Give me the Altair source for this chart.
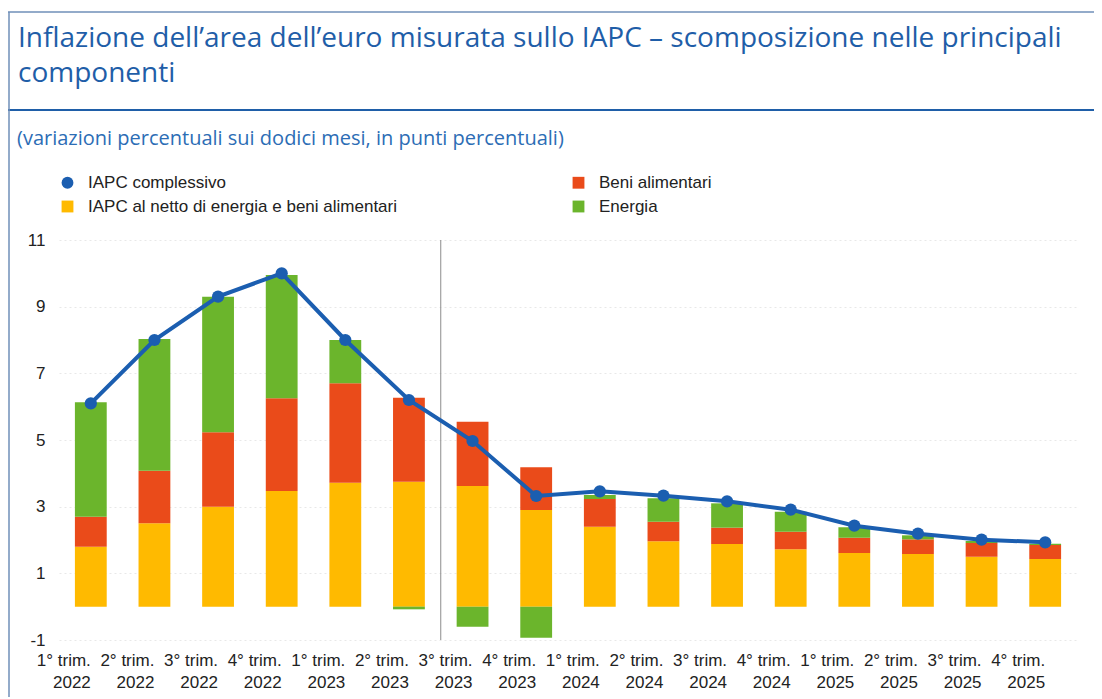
import altair as alt
import pandas as pd

# ---- data ----
quarters = ["1° trim.", "2° trim.", "3° trim.", "4° trim."] * 4
years = ["2022"] * 4 + ["2023"] * 4 + ["2024"] * 4 + ["2025"] * 4

core = [1.80, 2.50, 3.00, 3.47, 3.72, 3.75, 3.62, 2.90, 2.40, 1.96, 1.88, 1.72, 1.61, 1.58, 1.50, 1.43]
food = [0.90, 1.58, 2.23, 2.78, 2.98, 2.52, 1.93, 1.28, 0.83, 0.59, 0.49, 0.53, 0.46, 0.44, 0.41, 0.42]
energy = [3.43, 3.95, 4.07, 3.70, 1.30, -0.08, -0.60, -0.93, 0.12, 0.70, 0.73, 0.60, 0.31, 0.12, 0.06, 0.04]
hicp = [6.10, 8.00, 9.30, 10.00, 8.00, 6.20, 4.97, 3.32, 3.46, 3.33, 3.16, 2.91, 2.43, 2.19, 2.01, 1.93]

S_HICP = "IAPC complessivo"
S_FOOD = "Beni alimentari"
S_CORE = "IAPC al netto di energia e beni alimentari"
S_EN = "Energia"
legend_order = [S_HICP, S_CORE, S_FOOD, S_EN]
colors = ["#1B5EB0", "#FFBA00", "#EA4B1A", "#6BB52C"]
shapes = ["circle", "square", "square", "square"]
stack_rank = {S_CORE: 0, S_FOOD: 1, S_EN: 2}

title_lines = ["Inflazione dell\u2019area dell\u2019euro misurata sullo IAPC \u2013 scomposizione nelle principali",
               "componenti"]
subtitle = "(variazioni percentuali sui dodici mesi, in punti percentuali)"
y_ticks = [-1, 1, 3, 5, 7, 9, 11]

labels = [f"{q}|{y}" for q, y in zip(quarters, years)]
split_label = labels[6]  # projections start from 3° trim. 2023

rows = []
for i, lab in enumerate(labels):
    for s, vals in ((S_CORE, core), (S_FOOD, food), (S_EN, energy)):
        rows.append({"periodo": lab, "serie": s, "valore": vals[i], "ordine": stack_rank[s]})
bars_df = pd.DataFrame(rows)
line_df = pd.DataFrame({"periodo": labels, "serie": S_HICP, "valore": hicp})
split_df = pd.DataFrame({"periodo": [split_label]})
deco_df = pd.DataFrame({"k": [0]})

FONT = "Liberation Sans"
FS = 17
BLUE = "#1F5EA8"

x_enc = alt.X(
    "periodo:N", sort=labels, title=None,
    scale=alt.Scale(paddingInner=0, paddingOuter=0),
    axis=alt.Axis(labelExpr="split(datum.value, '|')", labelAngle=0, domain=False, ticks=False,
                  labelFont=FONT, labelFontSize=FS, labelColor="#222222", labelPadding=20,
                  labelLineHeight=22),
)
y_enc = alt.Y(
    "valore:Q", title=None, stack="zero",
    scale=alt.Scale(domain=[-1, 11], nice=False),
    axis=alt.Axis(values=y_ticks, labelExpr="'' + datum.value", domain=False, ticks=False,
                  labelFont=FONT, labelFontSize=FS, labelColor="#222222", labelPadding=14,
                  grid=True, gridColor="#e8e8e8", gridDash=[2, 3]),
)
leg = alt.Legend(title=None, orient="none", legendX=0, legendY=-66, columns=2, columnPadding=172,
                 rowPadding=6, symbolSize=140, symbolStrokeWidth=0, labelFont=FONT,
                 labelFontSize=FS, labelColor="#222222", labelLimit=600, labelOffset=12)
color_enc = alt.Color("serie:N", scale=alt.Scale(domain=legend_order, range=colors), legend=leg)
shape_enc = alt.Shape("serie:N", scale=alt.Scale(domain=legend_order, range=shapes), legend=leg)

bars = alt.Chart(bars_df).mark_bar(width=alt.RelativeBandSize(0.5)).encode(
    x=x_enc, y=y_enc, color=color_enc, order=alt.Order("ordine:Q")
)
line = alt.Chart(line_df).mark_line(color="#1B5EB0", strokeWidth=4).encode(
    x=x_enc, y=alt.Y("valore:Q", stack=None)
)
points = alt.Chart(line_df).mark_point(filled=True, size=150, opacity=1).encode(
    x=x_enc, y=alt.Y("valore:Q", stack=None), color=color_enc, shape=shape_enc
)
split_rule = alt.Chart(split_df).mark_rule(color="#8c8c8c", strokeWidth=1).encode(
    x=alt.X("periodo:N", sort=labels, bandPosition=0)
)

# ---- header decorations: title, blue rule, subtitle, frame ----
title_txt = alt.Chart(deco_df).mark_text(
    align="left", baseline="alphabetic", font="Open Sans", fontSize=28, lineHeight=35, color=BLUE
).encode(x=alt.value(-41), y=alt.value(-193), text=alt.value(title_lines))
subtitle_txt = alt.Chart(deco_df).mark_text(
    align="left", baseline="alphabetic", font="Open Sans", fontSize=20, color="#2C6DB5"
).encode(x=alt.value(-42), y=alt.value(-95), text=alt.value(subtitle))
underline = alt.Chart(deco_df).mark_rule(color=BLUE, strokeWidth=2).encode(
    x=alt.value(-51), x2=alt.value(1043), y=alt.value(-130)
)
frame_top = alt.Chart(deco_df).mark_rule(color="#6f8fb8", strokeWidth=1.5).encode(
    x=alt.value(-51), x2=alt.value(1043), y=alt.value(-228)
)
frame_left = alt.Chart(deco_df).mark_rule(color="#6f8fb8", strokeWidth=1.5).encode(
    x=alt.value(-50), y=alt.value(-228), y2=alt.value(457)
)

chart = alt.layer(
    split_rule, bars, line, points, title_txt, subtitle_txt, underline, frame_top, frame_left
).properties(
    width=1018,
    height=400,
    background="white",
    autosize=alt.AutoSizeParams(type="none"),
    padding={"left": 51, "top": 232, "right": 17, "bottom": 58},
).configure_view(stroke=None)

chart.save("out.html", embed_options={"renderer": "svg", "actions": False})
